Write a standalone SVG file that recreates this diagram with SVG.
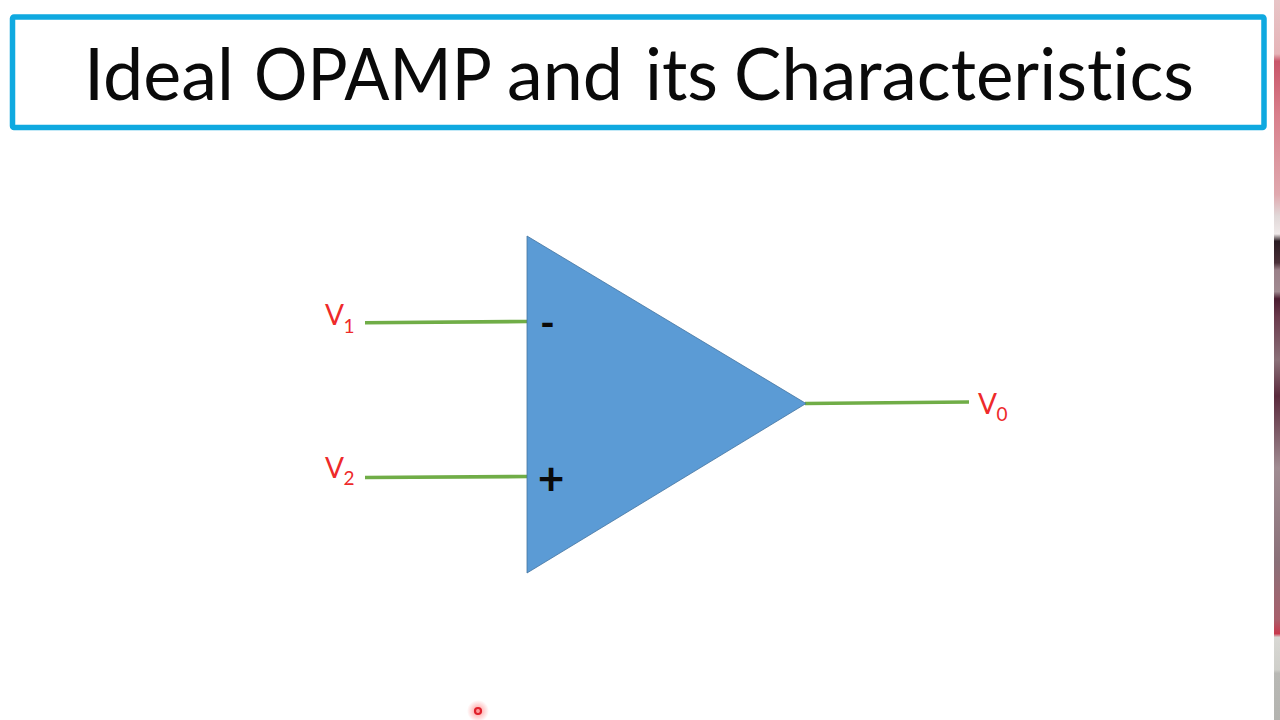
<svg xmlns="http://www.w3.org/2000/svg" width="1280" height="720" viewBox="0 0 1280 720">
<style>
.t{font-family:Lato,"Noto Sans","Liberation Sans",sans-serif;font-variant-ligatures:none}
.v{font-size:28px;fill:#ee2a2a}
.s{font-size:19px;fill:#ee2a2a}
.w{stroke:#70ad47;stroke-width:3.600;fill:none}
</style>
<defs>
<linearGradient id="strip" x1="0" y1="0" x2="0" y2="1">
<stop offset="0" stop-color="#e8c4c6"/>
<stop offset="0.075" stop-color="#e6b4b8"/>
<stop offset="0.085" stop-color="#c9566a"/>
<stop offset="0.16" stop-color="#d9808c"/>
<stop offset="0.27" stop-color="#e0a8ae"/>
<stop offset="0.3" stop-color="#e0d8d8"/>
<stop offset="0.325" stop-color="#efe9e9"/>
<stop offset="0.335" stop-color="#2a1c22"/>
<stop offset="0.365" stop-color="#4a3038"/>
<stop offset="0.375" stop-color="#9a8088"/>
<stop offset="0.405" stop-color="#a08a90"/>
<stop offset="0.415" stop-color="#4a1c30"/>
<stop offset="0.44" stop-color="#6a3a4c"/>
<stop offset="0.5" stop-color="#8a7078"/>
<stop offset="0.55" stop-color="#5a2a3c"/>
<stop offset="0.65" stop-color="#a08c92"/>
<stop offset="0.78" stop-color="#8a7078"/>
<stop offset="0.86" stop-color="#a8606c"/>
<stop offset="0.88" stop-color="#c8384c"/>
<stop offset="0.885" stop-color="#d8d8d4"/>
<stop offset="0.93" stop-color="#cfcfca"/>
<stop offset="0.935" stop-color="#b8b8b4"/>
<stop offset="1" stop-color="#b4b4b0"/>
</linearGradient>
<radialGradient id="glow"><stop offset="0" stop-color="#ff4a4a" stop-opacity=".6"/><stop offset="1" stop-color="#ff5a5a" stop-opacity="0"/></radialGradient>
</defs>
<rect width="1280" height="720" fill="#fff"/>
<rect x="1274" y="0" width="6" height="720" fill="url(#strip)"/>
<g id="title">
<rect x="12.500" y="17" width="1251.500" height="110.500" rx="1.500" fill="#fff" stroke="#0fa9e0" stroke-width="5.500"/>
<text class="t" y="100" font-size="71" fill="#0a0a0a" lengthAdjust="spacingAndGlyphs"><tspan x="84" textLength="150" lengthAdjust="spacingAndGlyphs">Ideal</tspan> <tspan x="254" textLength="236" lengthAdjust="spacingAndGlyphs">OPAMP</tspan> <tspan x="507" textLength="116" lengthAdjust="spacingAndGlyphs">and</tspan> <tspan x="645" textLength="73" lengthAdjust="spacingAndGlyphs">its</tspan> <tspan x="734" textLength="460" lengthAdjust="spacingAndGlyphs">Characteristics</tspan></text>
</g>
<g id="connectors">
<path class="w" d="M365 322.700L527 321.500"/>
<path class="w" d="M365 477.500L527 476.500"/>
<path class="w" d="M805 403.500L969 402"/>
</g>
<g id="opamp">
<path d="M527 236L806 403.500L527 573Z" fill="#5b9bd5" stroke="#44749f" stroke-width="0.800"/>
<text class="t" x="547.500" y="337" font-size="40" font-weight="700" fill="#0a0a0a" text-anchor="middle">-</text>
<text class="t" x="551" y="495" font-size="46" font-weight="700" fill="#0a0a0a" text-anchor="middle">+</text>
</g>
<g id="v1"><text class="t v" x="325" y="325">V</text><text class="t s" x="343.500" y="333">1</text></g>
<g id="v2"><text class="t v" x="325" y="478">V</text><text class="t s" x="343.500" y="485">2</text></g>
<g id="v0"><text class="t v" x="978" y="413.500">V</text><text class="t s" x="996.500" y="421">0</text></g>
<g id="pointer">
<circle cx="478" cy="711" r="11" fill="url(#glow)"/>
<circle cx="478" cy="711" r="3" fill="none" stroke="#e0202a" stroke-width="2.200"/>
</g>
</svg>
